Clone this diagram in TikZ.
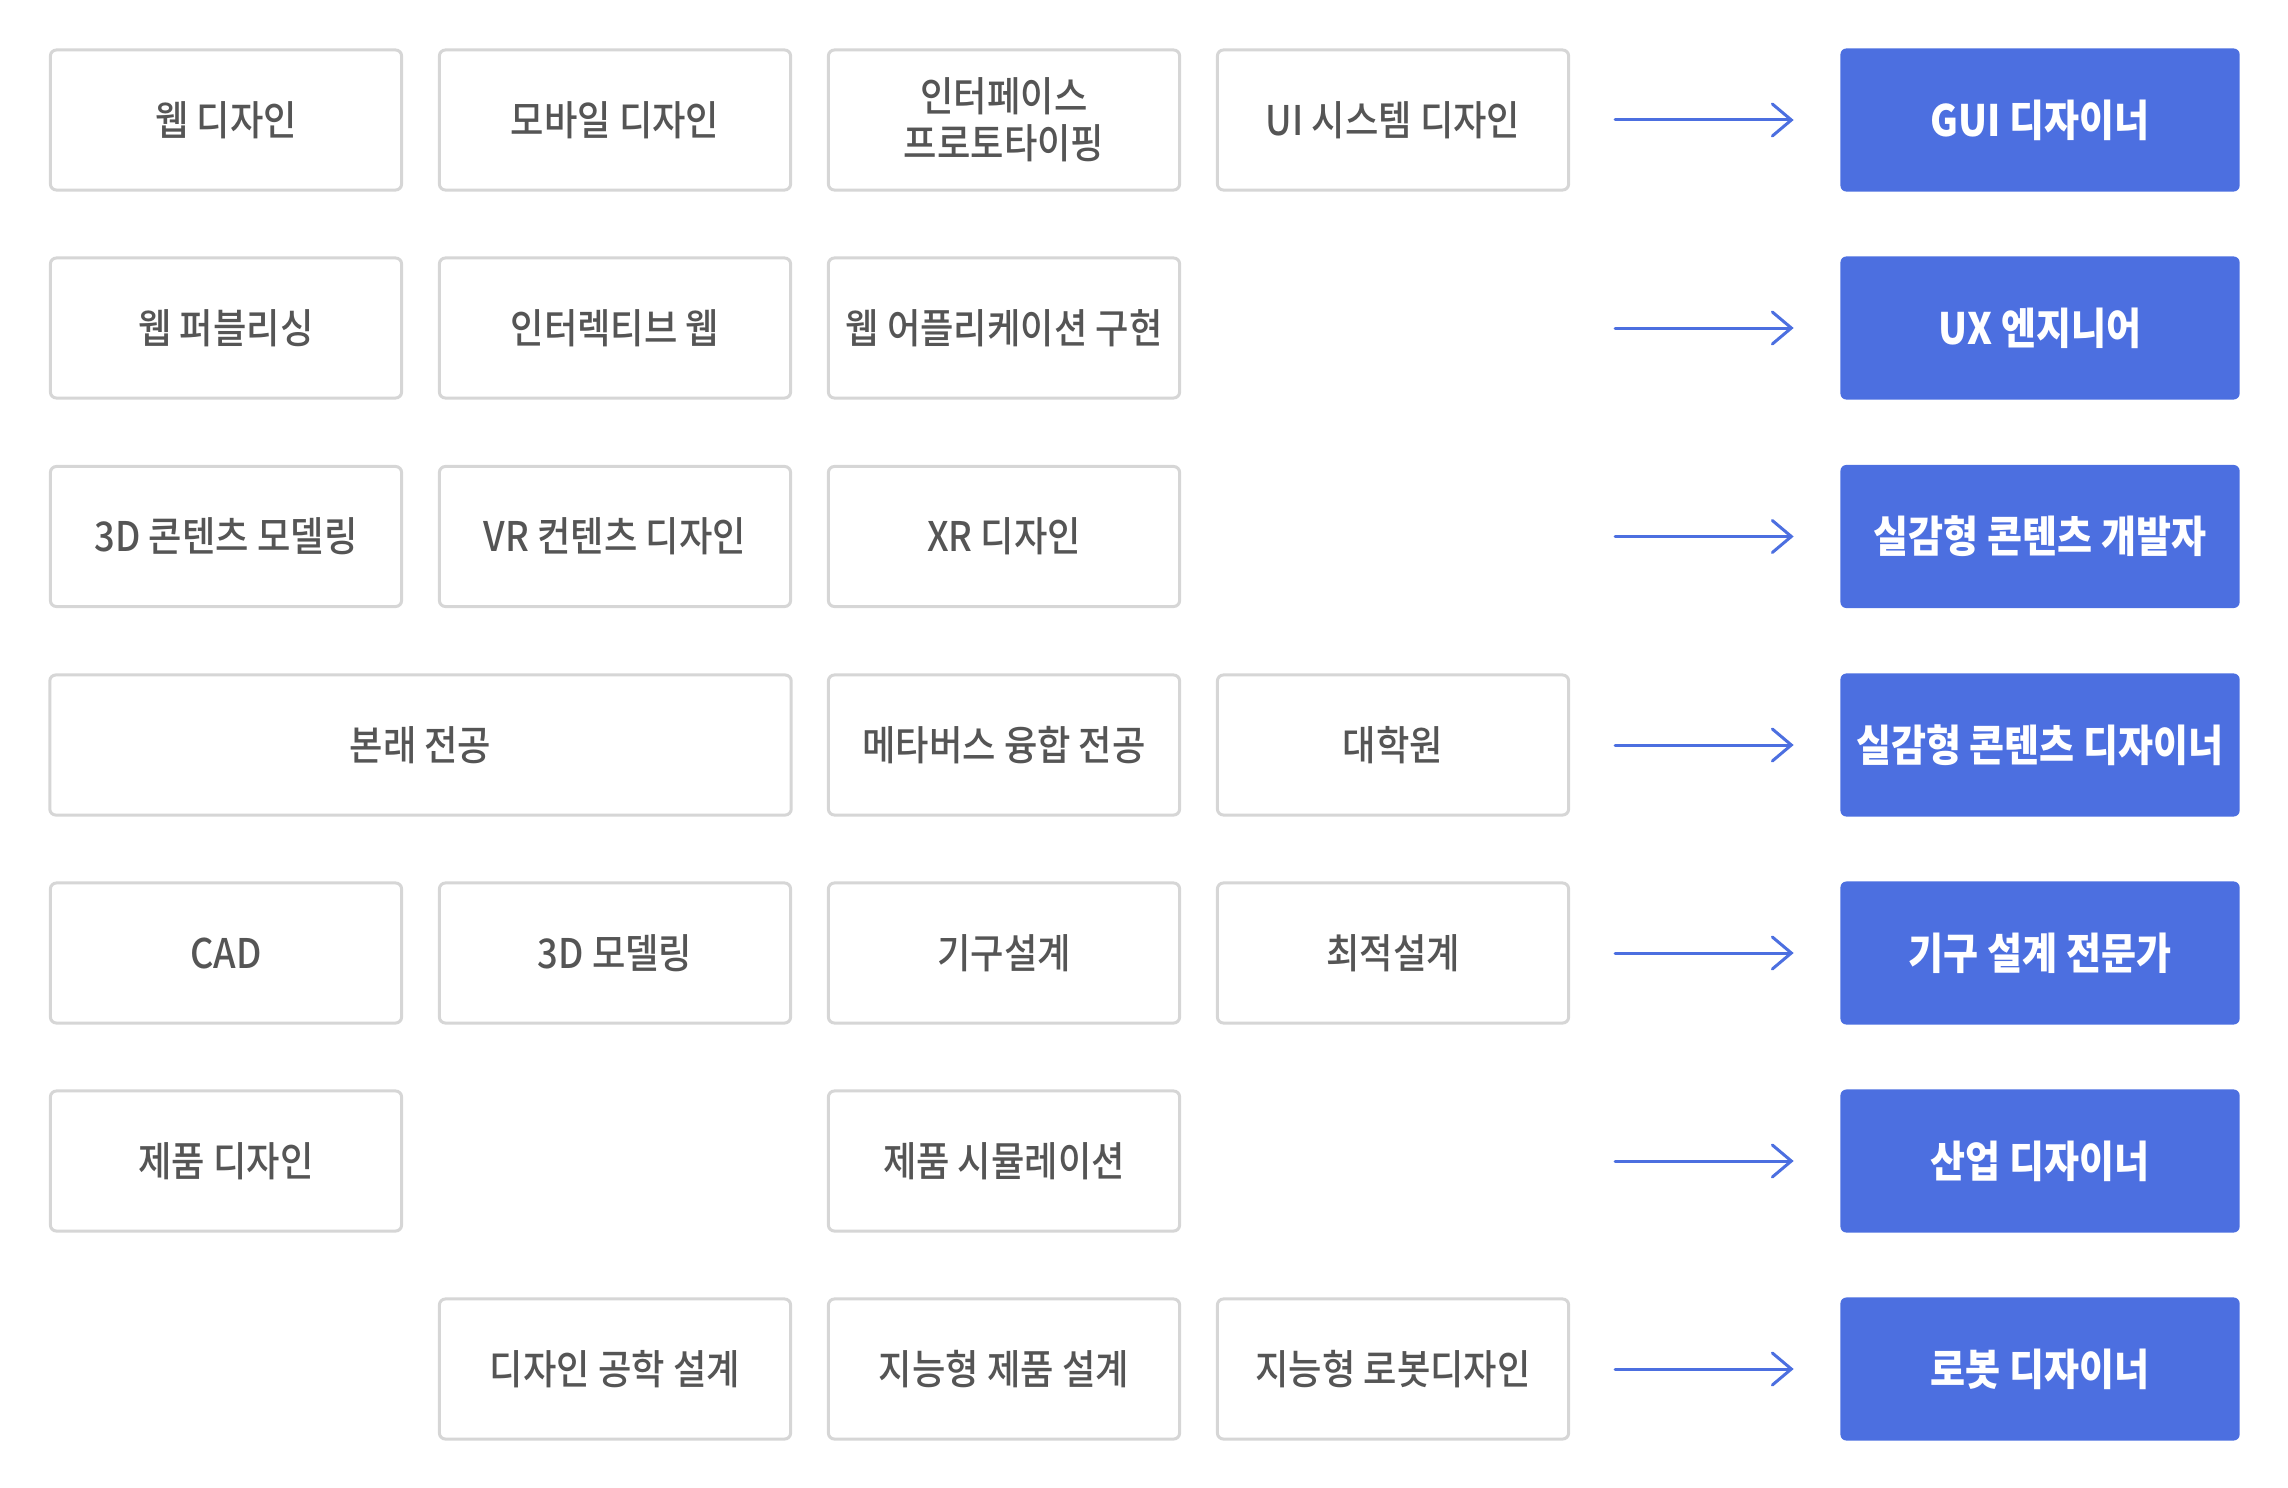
\documentclass[tikz,border=0pt]{standalone}
\usepackage{fontspec}
\setmainfont{Noto Sans CJK KR}[FakeStretch=0.88]
\newfontfamily\coursefont{Noto Sans CJK KR Medium}[FakeStretch=0.89]
\usepackage{tikz}
\usetikzlibrary{arrows.meta}
\usetikzlibrary{positioning}

\definecolor{boxline}{RGB}{214,214,214}
\definecolor{boxtext}{RGB}{85,85,85}
\definecolor{jobblue}{RGB}{76,111,224}

\begin{document}
\begin{tikzpicture}
    [x=0.01cm, y=-0.01cm,
    course/.style={draw=boxline, line width=0.03cm, rounded corners=0.06cm, fill=white,
      minimum width=3.51cm, minimum height=1.40cm, inner sep=0pt, align=center,
      text=boxtext, font=\coursefont\fontsize{11.6}{13.3}\selectfont},
    wide/.style={course, minimum width=7.41cm},
    job/.style={fill=jobblue, rounded corners=0.06cm, minimum width=3.99cm, minimum height=1.43cm,
      inner sep=0pt, text=white, font=\fontsize{12.3}{14}\selectfont\bfseries},
    lead/.style={draw=jobblue, line width=0.03cm, line cap=round, shorten >=0.46cm,
      -{Straight Barb[length=0.19cm, width=0.32cm, line cap=round]}}]
  \useasboundingbox (0,0) rectangle (2288,1488);

  \node [course] (webdesign) at (226,120) {웹 디자인};
  \node [course] (mobile) at (615,120) {모바일 디자인};
  \node [course] (proto) at (1004,120) {인터페이스\\프로토타이핑};
  \node [course] (uisys) at (1393,120) {UI 시스템 디자인};
  \node [job] (gui) at (2040,120) {GUI 디자이너};

  \node [course] (publish) at (226,328) {웹 퍼블리싱};
  \node [course] (interweb) at (615,328) {인터렉티브 웹};
  \node [course] (webapp) at (1004,328) {웹 어플리케이션 구현};
  \node [job] (ux) at (2040,328) {UX 엔지니어};

  \node [course] (contents) at (226,536.5) {3D 콘텐츠 모델링};
  \node [course] (vr) at (615,536.5) {VR 컨텐츠 디자인};
  \node [course] (xr) at (1004,536.5) {XR 디자인};
  \node [job] (xrdev) at (2040,536.5) {실감형 콘텐츠 개발자};

  \node [wide] (major) at (420.5,745) {본래 전공};
  \node [course] (meta) at (1004,745) {메타버스 융합 전공};
  \node [course] (grad) at (1393,745) {대학원};
  \node [job] (xrdesign) at (2040,745) {실감형 콘텐츠 디자이너};

  \node [course] (cad) at (226,953) {CAD};
  \node [course] (modeling) at (615,953) {3D 모델링};
  \node [course] (mech) at (1004,953) {기구설계};
  \node [course] (optim) at (1393,953) {최적설계};
  \node [job] (mechpro) at (2040,953) {기구 설계 전문가};

  \node [course] (product) at (226,1161) {제품 디자인};
  \node [course] (simul) at (1004,1161) {제품 시뮬레이션};
  \node [job] (industry) at (2040,1161) {산업 디자이너};

  \node [course] (engdesign) at (615,1369) {디자인 공학 설계};
  \node [course] (smart) at (1004,1369) {지능형 제품 설계};
  \node [course] (robotdesign) at (1393,1369) {지능형 로봇디자인};
  \node [job] (robot) at (2040,1369) {로봇 디자이너};

  \foreach \target in {gui, ux, xrdev, xrdesign, mechpro, industry, robot}
    \draw [lead] (\target.west -| 1615,0) coordinate (from-\target) -- (\target.west);
\end{tikzpicture}
\end{document}
